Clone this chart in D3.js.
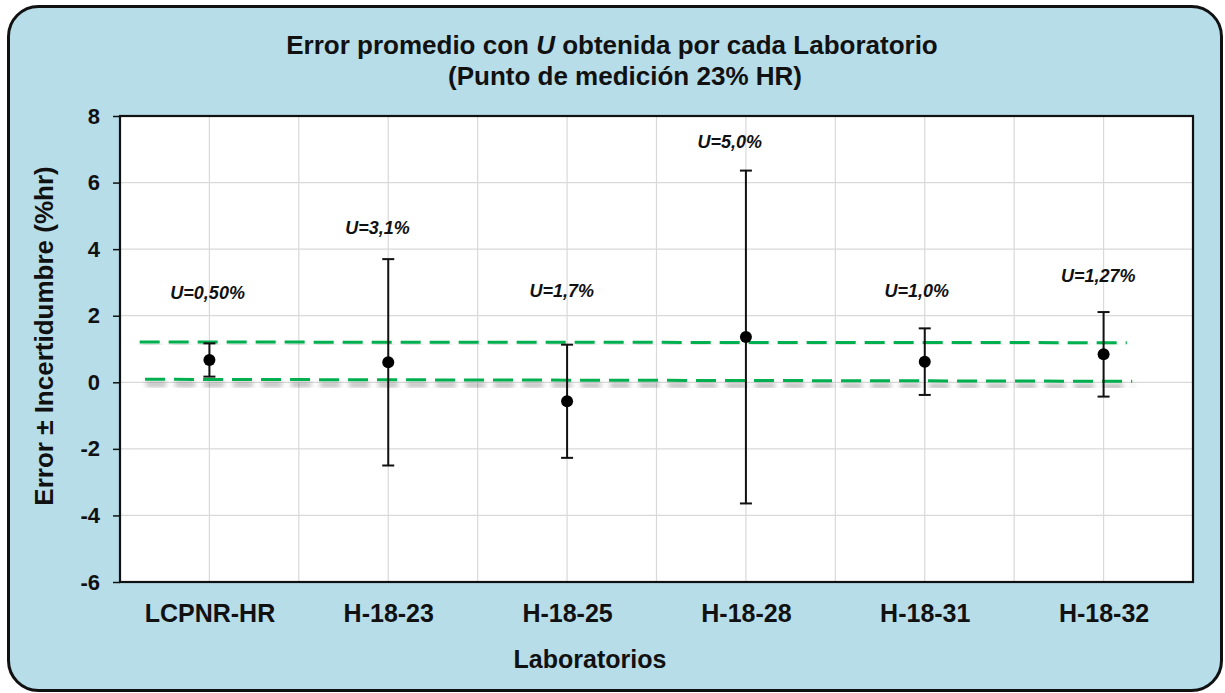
<!DOCTYPE html>
<html>
<head>
<meta charset="utf-8">
<script src="https://cdn.jsdelivr.net/npm/d3@7/dist/d3.min.js"></script>
<style>
  html, body { margin: 0; padding: 0; background: #ffffff; }
  svg { display: block; }
  text { font-family: "Liberation Sans", Arial, sans-serif; }
</style>
</head>
<body>
<svg id="chart" width="1225" height="693"></svg>
<script>
// Laboratories and their mean error with expanded uncertainty U
const labs = ["LCPNR-HR", "H-18-23", "H-18-25", "H-18-28", "H-18-31", "H-18-32"];
const meanError = [0.67, 0.60, -0.57, 1.36, 0.62, 0.84];
const uncertainty = [0.50, 3.1, 1.7, 5.0, 1.0, 1.27];
const uLabels = ["U=0,50%", "U=3,1%", "U=1,7%", "U=5,0%", "U=1,0%", "U=1,27%"];
// Annotation anchors: value (baseline) and category offset
const uLabelY = [2.49, 4.45, 2.55, 7.03, 2.55, 3.0];
const uLabelShift = [-0.01, -0.06, -0.03, -0.09, -0.045, -0.03];

// Reference band limits (dashed green lines), as [x index, value] endpoints
const upperLimit = [[-0.39, 1.21], [5.13, 1.19]];
const lowerLimit = [[-0.36, 0.09], [5.16, 0.03]];

const yTicks = [-6, -4, -2, 0, 2, 4, 6, 8];

const svg = d3.select("#chart");
const plot = { left: 120, right: 1193, top: 116, bottom: 582 };

// Background panel
svg.append("rect")
  .attr("x", 8.5).attr("y", 6.5)
  .attr("width", 1213).attr("height", 684)
  .attr("rx", 30).attr("ry", 30)
  .attr("fill", "#b7dde8")
  .attr("stroke", "#111").attr("stroke-width", 3);

const defs = svg.append("defs");
const sh = defs.append("filter").attr("id", "lineShadow")
  .attr("x", "-5%").attr("y", "-300%").attr("width", "110%").attr("height", "700%");
sh.append("feDropShadow").attr("dx", 1).attr("dy", 5).attr("stdDeviation", 2.8)
  .attr("flood-color", "#000").attr("flood-opacity", 0.45);

const x = d3.scaleLinear().domain([-0.5, labs.length - 0.5]).range([plot.left, plot.right]);
const y = d3.scaleLinear().domain([-6, 8]).range([plot.bottom, plot.top]);

// Plot area
svg.append("rect")
  .attr("x", plot.left).attr("y", plot.top)
  .attr("width", plot.right - plot.left).attr("height", plot.bottom - plot.top)
  .attr("fill", "#ffffff");

// Grid
const vGrid = d3.range(0, labs.length * 2 + 1).map(k => -0.5 + k * 0.5);
svg.append("g").selectAll("line").data(vGrid).join("line")
  .attr("x1", d => x(d)).attr("x2", d => x(d))
  .attr("y1", plot.top).attr("y2", plot.bottom)
  .attr("stroke", "#d9d9d9").attr("stroke-width", 1.2);
svg.append("g").selectAll("line").data(yTicks).join("line")
  .attr("x1", plot.left).attr("x2", plot.right)
  .attr("y1", d => y(d)).attr("y2", d => y(d))
  .attr("stroke", "#d9d9d9").attr("stroke-width", 1.2);

// Y axis
const yAxis = svg.append("g")
  .attr("transform", `translate(${plot.left},0)`)
  .call(d3.axisLeft(y).tickValues(yTicks).tickSize(7).tickPadding(13).tickFormat(d => String(d)));
yAxis.select(".domain").remove();
yAxis.selectAll(".tick line").attr("stroke", "#111").attr("stroke-width", 1.5);
yAxis.selectAll(".tick text")
  .attr("font-size", 22).attr("font-weight", "bold").attr("fill", "#111");

// X axis labels
const xAxis = svg.append("g")
  .attr("transform", `translate(0,${plot.bottom})`)
  .call(d3.axisBottom(x).tickValues(d3.range(labs.length)).tickSize(0).tickPadding(0)
    .tickFormat(i => labs[i]));
xAxis.select(".domain").remove();
xAxis.selectAll(".tick text")
  .attr("y", 40).attr("dy", null)
  .attr("font-size", 25).attr("font-weight", "bold").attr("fill", "#111");

// Plot border
svg.append("rect")
  .attr("x", plot.left).attr("y", plot.top)
  .attr("width", plot.right - plot.left).attr("height", plot.bottom - plot.top)
  .attr("fill", "none").attr("stroke", "#111").attr("stroke-width", 2.2);

// Dashed reference lines
const line = d3.line().x(d => x(d[0])).y(d => y(d[1]));
[upperLimit, lowerLimit].forEach(pts => {
  svg.append("path")
    .attr("d", line(pts))
    .attr("fill", "none")
    .attr("stroke", "#00b050").attr("stroke-width", 3)
    .attr("stroke-dasharray", "20,9")
    .attr("filter", "url(#lineShadow)");
});

// Error bars
const bars = svg.append("g");
labs.forEach((lab, i) => {
  const cx = x(i);
  const hi = y(meanError[i] + uncertainty[i]);
  const lo = y(meanError[i] - uncertainty[i]);
  bars.append("line").attr("x1", cx).attr("x2", cx).attr("y1", hi).attr("y2", lo)
    .attr("stroke", "#111").attr("stroke-width", 2);
  [hi, lo].forEach(v => bars.append("line")
    .attr("x1", cx - 6).attr("x2", cx + 6).attr("y1", v).attr("y2", v)
    .attr("stroke", "#111").attr("stroke-width", 2));
});

// Mean points
svg.append("g").selectAll("circle").data(meanError).join("circle")
  .attr("cx", (d, i) => x(i)).attr("cy", d => y(d)).attr("r", 6)
  .attr("fill", "#000");

// U labels
svg.append("g").selectAll("text").data(uLabels).join("text")
  .attr("x", (d, i) => x(i + uLabelShift[i])).attr("y", (d, i) => y(uLabelY[i]))
  .attr("text-anchor", "middle")
  .attr("font-size", 18).attr("font-weight", "bold").attr("font-style", "italic")
  .attr("fill", "#111")
  .text(d => d);

// Titles
const title = svg.append("text")
  .attr("x", 612).attr("y", 54)
  .attr("text-anchor", "middle")
  .attr("font-size", 26).attr("font-weight", "bold").attr("fill", "#111");
title.append("tspan").text("Error promedio con ");
title.append("tspan").attr("font-style", "italic").text("U");
title.append("tspan").text(" obtenida por cada Laboratorio");

svg.append("text")
  .attr("x", 625).attr("y", 85)
  .attr("text-anchor", "middle")
  .attr("font-size", 26).attr("font-weight", "bold").attr("fill", "#111")
  .text("(Punto de medición 23% HR)");

svg.append("text")
  .attr("transform", `translate(53,336) rotate(-90)`)
  .attr("text-anchor", "middle")
  .attr("font-size", 26).attr("font-weight", "bold").attr("fill", "#111")
  .text("Error ± Incertidumbre (%hr)");

svg.append("text")
  .attr("x", 590).attr("y", 668)
  .attr("text-anchor", "middle")
  .attr("font-size", 25).attr("font-weight", "bold").attr("fill", "#111")
  .text("Laboratorios");
</script>
</body>
</html>
